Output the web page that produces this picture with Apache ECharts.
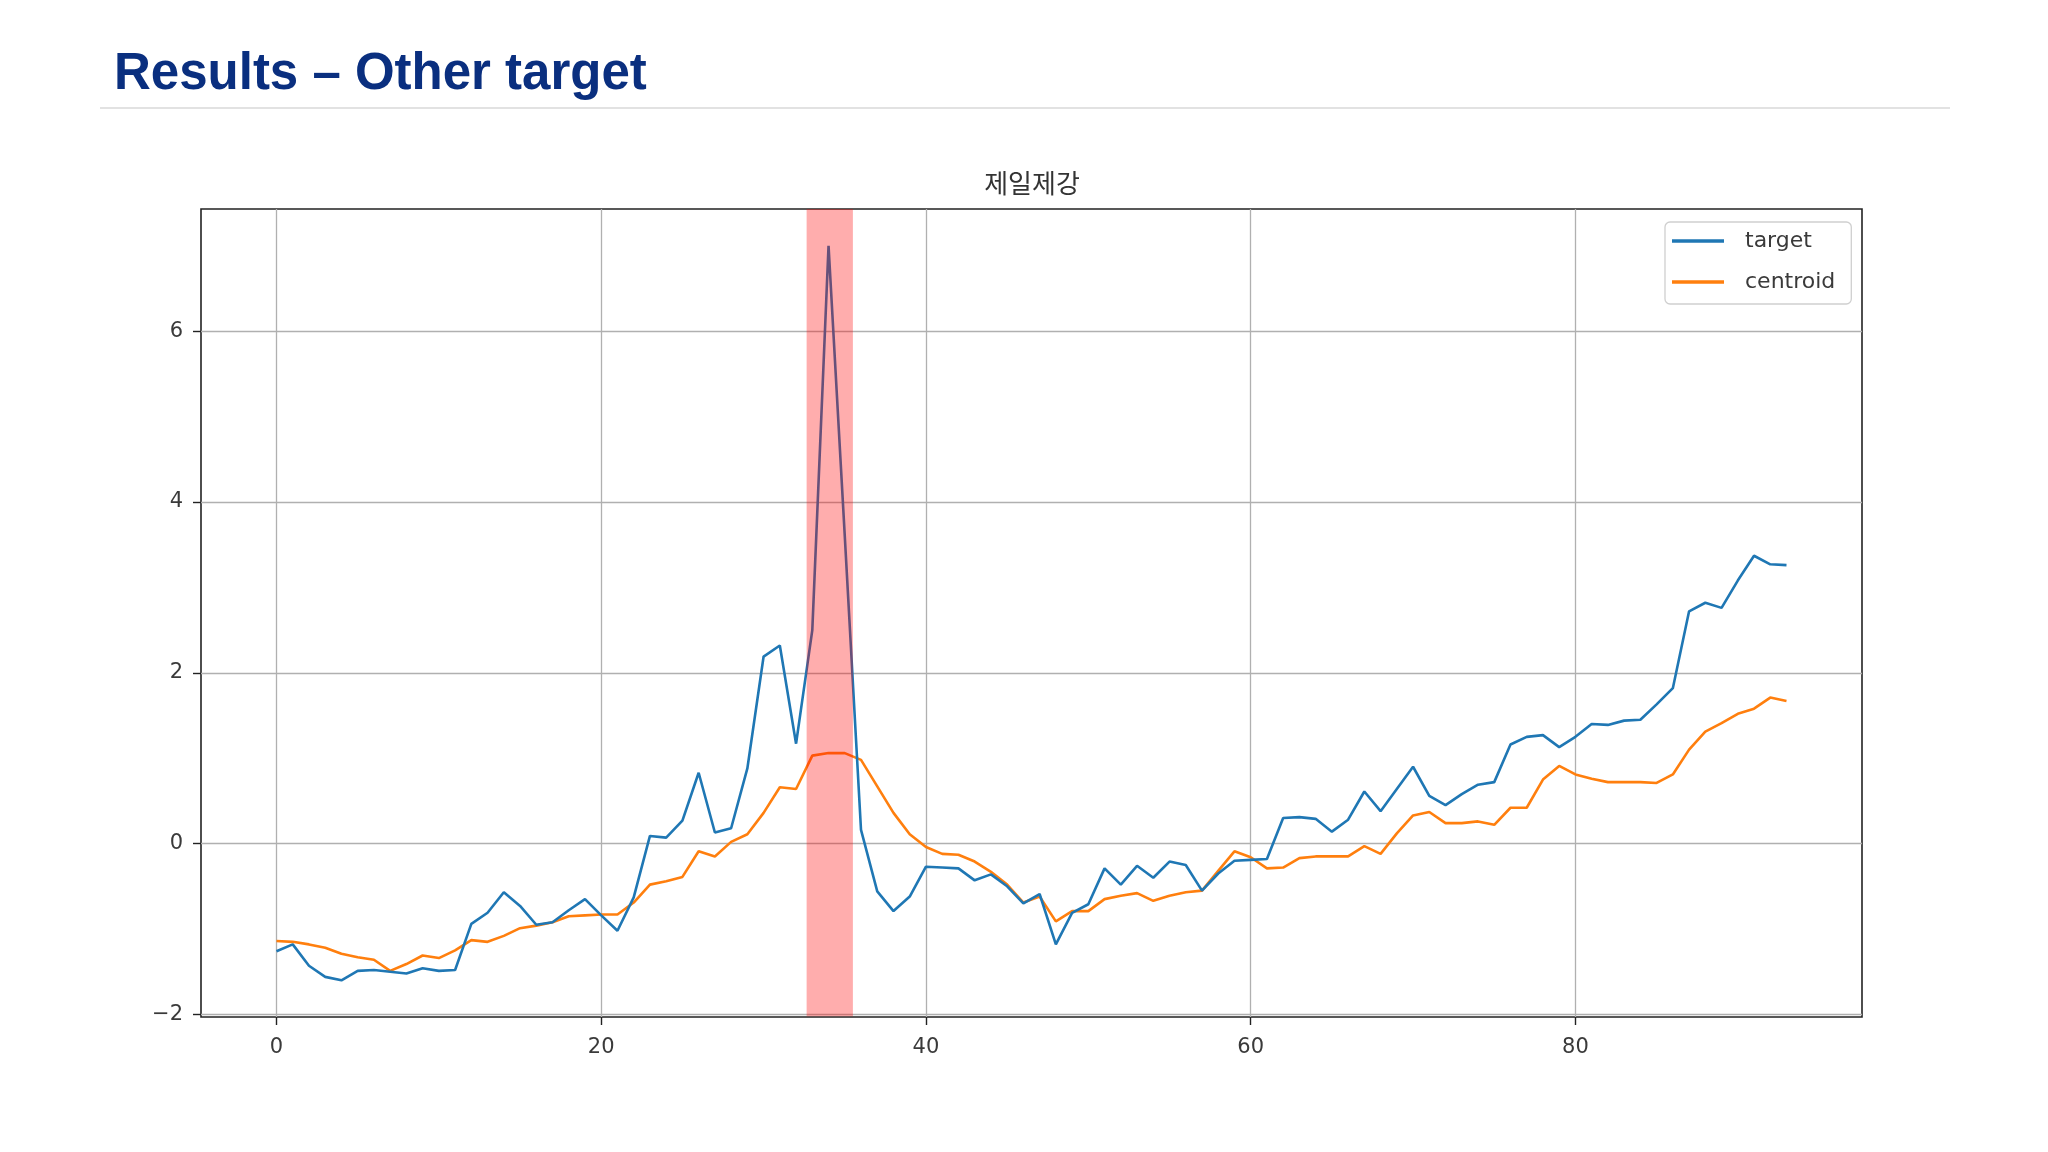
<!DOCTYPE html>
<html>
<head>
<meta charset="utf-8">
<script src="https://cdn.jsdelivr.net/npm/echarts@6/dist/echarts.min.js"></script>
<style>
html,body{margin:0;padding:0;background:#fff;}
#c{width:2048px;height:1152px;}
</style>
</head>
<body>
<div id="c"></div>
<script>
// ---- data ----
const pageTitle = 'Results – Other target';
const chartTitle = '제일제강';
const seriesNames = ['target', 'centroid'];
const target = [
  -1.26, -1.18, -1.43, -1.56, -1.60, -1.49, -1.48, -1.50, -1.52, -1.46,
  -1.49, -1.48, -0.94, -0.81, -0.57, -0.73, -0.95, -0.92, -0.78, -0.65,
  -0.84, -1.02, -0.63, 0.09, 0.07, 0.27, 0.83, 0.13, 0.18, 0.88,
  2.19, 2.32, 1.17, 2.50, 7.00, 3.60, 0.16, -0.56, -0.79, -0.62,
  -0.27, -0.28, -0.29, -0.43, -0.36, -0.50, -0.70, -0.59, -1.18, -0.81,
  -0.71, -0.29, -0.48, -0.26, -0.40, -0.21, -0.25, -0.55, -0.35, -0.20,
  -0.19, -0.18, 0.30, 0.31, 0.29, 0.14, 0.28, 0.61, 0.38, 0.64,
  0.90, 0.56, 0.45, 0.58, 0.69, 0.72, 1.16, 1.25, 1.27, 1.13,
  1.25, 1.40, 1.39, 1.44, 1.45, 1.63, 1.82, 2.72, 2.82, 2.76,
  3.08, 3.37, 3.27, 3.26
];
const centroid = [
  -1.14, -1.15, -1.18, -1.22, -1.29, -1.33, -1.36, -1.49, -1.41, -1.31,
  -1.34, -1.25, -1.13, -1.15, -1.08, -0.99, -0.96, -0.92, -0.85, -0.84,
  -0.83, -0.83, -0.69, -0.48, -0.44, -0.39, -0.09, -0.15, 0.02, 0.11,
  0.36, 0.66, 0.64, 1.03, 1.06, 1.06, 0.98, 0.67, 0.36, 0.11,
  -0.04, -0.12, -0.13, -0.21, -0.33, -0.48, -0.69, -0.62, -0.91, -0.79,
  -0.79, -0.65, -0.61, -0.58, -0.67, -0.61, -0.57, -0.55, -0.32, -0.09,
  -0.16, -0.29, -0.28, -0.17, -0.15, -0.15, -0.15, -0.03, -0.12, 0.12,
  0.33, 0.37, 0.24, 0.24, 0.26, 0.22, 0.42, 0.42, 0.75, 0.91,
  0.81, 0.76, 0.72, 0.72, 0.72, 0.71, 0.81, 1.10, 1.31, 1.41,
  1.52, 1.58, 1.71, 1.67
];
const highlightSpan = [32.65, 35.5];
const xTicks = [0, 20, 40, 60, 80];
const yTicks = [-2, 0, 2, 4, 6];
const xRange = [-4.65, 97.65];
const yRange = [-2.03, 7.43];

// ---- build ----
const toPairs = arr => arr.map((v, i) => [i, v]);
const fmtNum = v => (v < 0 ? '\u2212' + Math.abs(v) : String(v));

const chart = echarts.init(document.getElementById('c'), null, {renderer: 'canvas'});
const axisColor = '#222';
const labelStyle = {color: '#3a3a3a', fontSize: 21, fontFamily: 'DejaVu Sans'};

chart.setOption({
  backgroundColor: '#ffffff',
  animation: false,
  title: [
    {
      text: pageTitle, left: 109, top: 40,
      textStyle: {color: '#0a2f7f', fontSize: 51, fontWeight: 'bold', fontFamily: 'Liberation Sans', lineHeight: 60}
    },
    {
      text: chartTitle, left: 1027, top: 162, textAlign: 'center',
      textStyle: {color: '#333', fontSize: 26, fontWeight: 'normal', fontFamily: 'Noto Sans CJK KR', lineHeight: 32}
    }
  ],
  graphic: [
    {type: 'line', shape: {x1: 100, y1: 108, x2: 1950, y2: 108}, style: {stroke: '#e2e2e2', lineWidth: 2}, silent: true}
  ],
  legend: {
    data: seriesNames,
    orient: 'vertical',
    left: 1665, top: 222,
    icon: 'rect',
    itemWidth: 52, itemHeight: 3.5,
    itemGap: 19,
    padding: [8, 16, 11, 7],
    backgroundColor: '#ffffff',
    borderColor: '#cfcfcf', borderWidth: 1.3, borderRadius: 5,
    textStyle: {color: '#3a3a3a', fontSize: 22, fontFamily: 'DejaVu Sans', padding: [0, 0, 0, 16]}
  },
  grid: {
    left: 201, top: 209, width: 1661, height: 808,
    show: true, borderColor: axisColor, borderWidth: 1.6, backgroundColor: 'transparent',
    containLabel: false
  },
  xAxis: {
    type: 'value', min: xRange[0], max: xRange[1],
    axisLine: {show: false, onZero: false},
    axisTick: {show: true, customValues: xTicks, length: 8, lineStyle: {color: axisColor, width: 1.4}},
    axisLabel: {customValues: xTicks, margin: 20, formatter: fmtNum, ...labelStyle},
    splitLine: {show: true, lineStyle: {color: '#b0b0b0', width: 1.3}}
  },
  yAxis: {
    type: 'value', min: yRange[0], max: yRange[1],
    axisLine: {show: false, onZero: false},
    axisTick: {show: true, customValues: yTicks, length: 8, lineStyle: {color: axisColor, width: 1.4}},
    axisLabel: {customValues: yTicks, margin: 18, formatter: fmtNum, ...labelStyle},
    splitLine: {show: true, lineStyle: {color: '#b0b0b0', width: 1.3}}
  },
  series: [
    {
      name: seriesNames[0], type: 'line', data: toPairs(target),
      symbol: 'none', showSymbol: false, z: 3,
      itemStyle: {color: '#1f77b4'},
      lineStyle: {color: '#1f77b4', width: 2.6}
    },
    {
      name: seriesNames[1], type: 'line', data: toPairs(centroid),
      symbol: 'none', showSymbol: false, z: 2,
      itemStyle: {color: '#ff7f0e'},
      lineStyle: {color: '#ff7f0e', width: 2.6}
    },
    {
      name: 'span', type: 'line', data: [], z: 10, clip: false, silent: true,
      markArea: {
        silent: true, z: 10,
        itemStyle: {color: 'rgba(255,0,0,0.32)'},
        data: [[{xAxis: highlightSpan[0], yAxis: -2.02}, {xAxis: highlightSpan[1], yAxis: 7.48}]]
      }
    }
  ]
});
</script>
</body>
</html>
